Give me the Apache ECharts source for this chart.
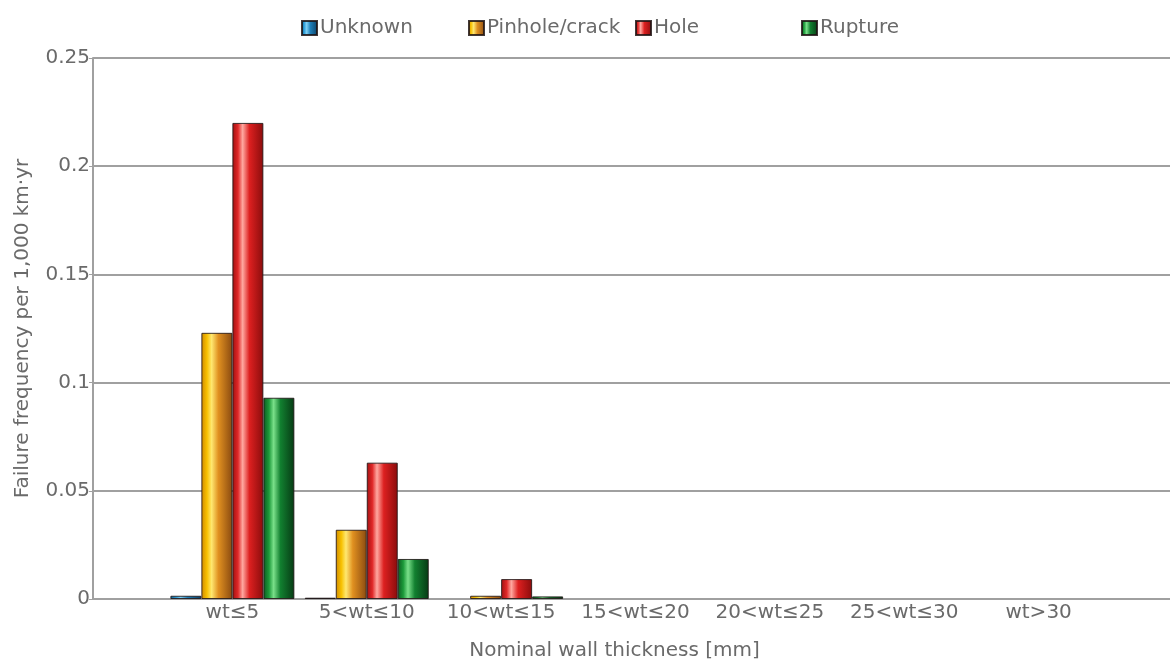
<!DOCTYPE html>
<html>
<head>
<meta charset="utf-8">
<script src="https://cdn.jsdelivr.net/npm/echarts@6/dist/echarts.min.js"></script>
<style>
html,body{margin:0;padding:0;background:#fff;}
#chart{width:1170px;height:663px;}
</style>
</head>
<body>
<div id="chart"></div>
<script>
var categories = ['wt≤5', '5<wt≤10', '10<wt≤15', '15<wt≤20', '20<wt≤25', '25<wt≤30', 'wt>30'];
var unknownVals = [0.0015, 0.0006, 0, 0, 0, 0, 0];
var pinholeVals = [0.123, 0.032, 0.0015, 0, 0, 0, 0];
var holeVals    = [0.220, 0.063, 0.0092, 0, 0, 0, 0];
var ruptureVals = [0.093, 0.0185, 0.0012, 0, 0, 0, 0];
var yTicks = [0, 0.05, 0.1, 0.15, 0.2, 0.25];

var FONT = 'DejaVu Sans';
var TXT = '#6a6a6a';
var chart = echarts.init(document.getElementById('chart'));
function grad(c0, c1, c2, c3, c4) {
  return new echarts.graphic.LinearGradient(0, 0, 1, 0, [
    {offset: 0, color: c0}, {offset: 0.18, color: c1}, {offset: 0.33, color: c2},
    {offset: 0.55, color: c3}, {offset: 1, color: c4}
  ]);
}
var styles = {
  'Unknown': grad('#0d5d8a', '#2a9bd6', '#7fd0f5', '#1f7fb8', '#0b3f63'),
  'Pinhole/crack': grad('#d08a00', '#f7c000', '#ffe870', '#e09020', '#8a4a10'),
  'Hole': grad('#a01010', '#e02828', '#ffa8a0', '#dd2020', '#8a0c0c'),
  'Rupture': grad('#0c5a20', '#1c9a3a', '#7ae08a', '#128030', '#063a14')
};
function pad(arr) { return ['-'].concat(arr.map(function(v){return v === 0 ? '-' : v;})).concat(['-']); }
function mkSeries(name, vals) {
  return {
    name: name, type: 'bar', data: pad(vals), barWidth: 31, barGap: '0%',
    xAxisIndex: 1, yAxisIndex: 1,
    itemStyle: {color: styles[name], borderColor: 'rgba(30,20,20,0.85)', borderWidth: 1},
    emphasis: {disabled: true}
  };
}
function mkLegend(name, left) {
  return {
    data: [name], left: left, top: 13, itemWidth: 15, itemHeight: 14, itemGap: 4,
    textStyle: {color: TXT, fontFamily: FONT, fontSize: 20, padding: [0, 0, 0, -2]},
    icon: 'rect'
  };
}
var yName = 'Failure frequency per 1,000 km·yr';
chart.setOption({
  animation: false,
  backgroundColor: '#fff',
  legend: [mkLegend('Unknown', 296), mkLegend('Pinhole/crack', 463), mkLegend('Hole', 630), mkLegend('Rupture', 796)],
  grid: [
    {left: 93, top: 58, right: -3, bottom: 64, containLabel: false, outerBoundsMode: 'none'},
    {left: 98, top: 58, right: -3, bottom: 64, containLabel: false, outerBoundsMode: 'none'}
  ],
  xAxis: [
    {
      gridIndex: 0, type: 'category', boundaryGap: false, data: [''].concat(categories).concat(['']),
      axisTick: {show: false}, axisLabel: {show: false},
      axisLine: {show: true, lineStyle: {color: '#a0a0a0', width: 2}},
      name: 'Nominal wall thickness [mm]', nameLocation: 'middle', nameGap: 42,
      nameTextStyle: {color: TXT, fontFamily: FONT, fontSize: 20, padding: [0, 37, 0, 0]}
    },
    {
      gridIndex: 1, type: 'category', boundaryGap: false, data: [''].concat(categories).concat(['']),
      axisTick: {show: false}, axisLine: {show: false},
      axisLabel: {interval: 0, color: TXT, fontFamily: FONT, fontSize: 20, margin: 4}
    }
  ],
  yAxis: [
    {
      gridIndex: 0, type: 'value', min: 0, max: 0.25, interval: 0.05,
      axisLine: {show: true, lineStyle: {color: '#a0a0a0', width: 2}},
      axisTick: {show: true, length: 4, lineStyle: {color: '#a0a0a0', width: 1}},
      splitLine: {show: true, lineStyle: {color: '#a0a0a0', width: 2}},
      axisLabel: {color: TXT, fontFamily: FONT, fontSize: 20, margin: 3,
        formatter: function(v){ var s = yTicks.filter(function(t){return Math.abs(t - v) < 1e-9;}); return s.length ? String(s[0]) : ''; }},
      name: yName, nameLocation: 'middle', nameGap: 60,
      nameTextStyle: {color: TXT, fontFamily: FONT, fontSize: 20}
    },
    {
      gridIndex: 1, type: 'value', min: 0, max: 0.25, interval: 0.05,
      axisLine: {show: false}, axisTick: {show: false}, splitLine: {show: false}, axisLabel: {show: false}
    }
  ],
  series: [
    mkSeries('Unknown', unknownVals),
    mkSeries('Pinhole/crack', pinholeVals),
    mkSeries('Hole', holeVals),
    mkSeries('Rupture', ruptureVals)
  ]
});
</script>
</body>
</html>
